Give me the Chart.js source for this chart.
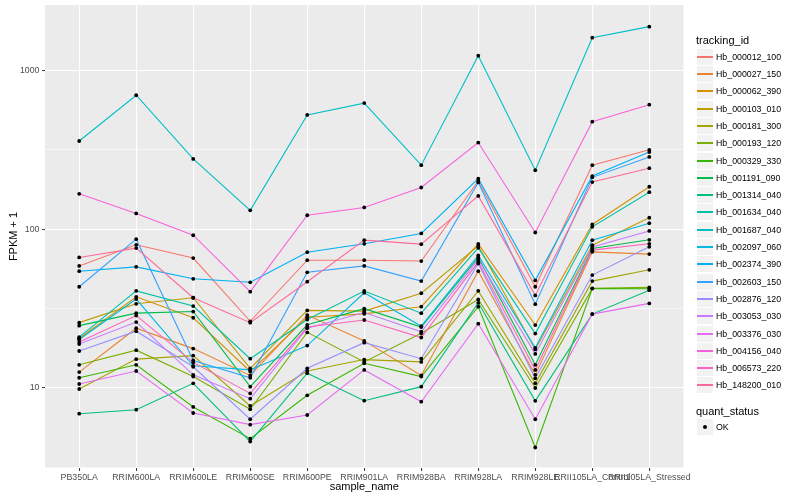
<!DOCTYPE html>
<html>
<head>
<meta charset="utf-8">
<script src="https://cdn.jsdelivr.net/npm/chart.js@4.4.1/dist/chart.umd.min.js"></script>
<style>
html,body{margin:0;padding:0;background:#ffffff;}
#wrap{position:relative;width:800px;height:500px;overflow:hidden;font-family:"Liberation Sans",Arial,Helvetica,sans-serif;}
#c{position:absolute;left:0;top:0;}
.lg{position:absolute;white-space:nowrap;color:#000;}
.key{position:absolute;background:#F2F2F2;}
.kl{position:absolute;left:0;right:0;}
</style>
</head>
<body>
<div id="wrap">
<canvas id="c" width="800" height="500"></canvas>
<div id="legend"></div>
</div>
<script>
// ---- data ----
const categories = ["PB350LA","RRIM600LA","RRIM600LE","RRIM600SE","RRIM600PE","RRIM901LA","RRIM928BA","RRIM928LA","RRIM928LE","RRII105LA_Control","RRII105LA_Stressed"];

const Hb_000012_100 = [58.7, 79.7, 65.8, 26.3, 63.8, 63.8, 63.0, 201, 43.4, 253, 316];
const Hb_000027_150 = [12.6, 23.8, 17.7, 12.0, 28.8, 19.8, 12.0, 54.4, 12.1, 72, 69.7];
const Hb_000062_390 = [20.5, 37.5, 27.7, 12.7, 27.9, 29.3, 32.5, 80.8, 24.9, 107, 185];
const Hb_000103_010 = [25.8, 33.9, 37.0, 13.3, 30.8, 30.5, 39.5, 78.5, 17.5, 79.2, 118];
const Hb_000181_300 = [9.86, 15.2, 16.0, 7.71, 12.8, 15.1, 14.6, 40.9, 10.7, 47.1, 55.5];
const Hb_000193_120 = [14.0, 17.3, 11.8, 7.35, 22.4, 14.6, 22.1, 36.1, 10.0, 42.4, 43.0];
const Hb_000329_330 = [11.6, 14.0, 7.6, 4.8, 9.0, 14.3, 11.8, 32.5, 4.22, 42.3, 42.2];
const Hb_001191_090 = [24.7, 29.6, 30.3, 10.2, 25.0, 31.6, 24.2, 66.4, 14.0, 75.7, 85.7];
const Hb_001314_040 = [6.89, 7.3, 10.7, 4.6, 12.4, 8.32, 10.2, 34.4, 8.3, 29.2, 41.3];
const Hb_001634_040 = [20.9, 40.9, 32.8, 15.3, 27.0, 40.8, 29.6, 76.3, 22.0, 103.5, 171];
const Hb_001687_040 = [359, 697, 277, 131.5, 524, 622, 253, 1236, 235, 1606, 1884];
const Hb_002097_060 = [20.2, 36.3, 13.8, 13.0, 18.5, 39.8, 24.5, 68.3, 17.9, 85.3, 109];
const Hb_002374_390 = [54.4, 57.9, 48.7, 46.3, 71.6, 80.9, 94.0, 208, 47.6, 216, 306];
const Hb_002603_150 = [43.4, 86.5, 14.9, 11.6, 53.5, 58.7, 47.1, 197, 33.7, 212, 285];
const Hb_002876_120 = [17.1, 22.8, 13.6, 6.36, 13.3, 19.3, 15.3, 60.8, 11.5, 51.4, 77.4];
const Hb_003053_030 = [18.9, 26.0, 12.1, 8.57, 23.8, 29.9, 22.6, 64.5, 16.4, 77.4, 97.5];
const Hb_003376_030 = [10.6, 12.8, 6.96, 5.88, 6.76, 13.0, 8.2, 25.4, 6.36, 29.2, 34.1];
const Hb_004156_040 = [167, 125.6, 91.6, 40.4, 122.4, 137, 183, 351, 95.3, 475, 608];
const Hb_006573_220 = [19.5, 28.6, 14.5, 9.25, 24.2, 26.8, 20.8, 62.3, 13.0, 73.8, 80.9];
const Hb_148200_010 = [66.4, 76.0, 37.0, 25.8, 46.7, 85.3, 80.5, 162, 38.3, 198, 242];

const seriesNames = ["Hb_000012_100","Hb_000027_150","Hb_000062_390","Hb_000103_010","Hb_000181_300","Hb_000193_120","Hb_000329_330","Hb_001191_090","Hb_001314_040","Hb_001634_040","Hb_001687_040","Hb_002097_060","Hb_002374_390","Hb_002603_150","Hb_002876_120","Hb_003053_030","Hb_003376_030","Hb_004156_040","Hb_006573_220","Hb_148200_010"];
const seriesValues = [Hb_000012_100,Hb_000027_150,Hb_000062_390,Hb_000103_010,Hb_000181_300,Hb_000193_120,Hb_000329_330,Hb_001191_090,Hb_001314_040,Hb_001634_040,Hb_001687_040,Hb_002097_060,Hb_002374_390,Hb_002603_150,Hb_002876_120,Hb_003053_030,Hb_003376_030,Hb_004156_040,Hb_006573_220,Hb_148200_010];

const yTickValues = [10, 100, 1000];
const yTickLabels = ["10", "100", "1000"];
const yMinorValues = [Math.pow(10,0.5), Math.pow(10,1.5), Math.pow(10,2.5)];

// ---- colours: ggplot2 hue palette (hcl, c=100, l=65) ----
function hcl2hex(h, c, l) {
  const hr = h * Math.PI / 180;
  const U = c * Math.cos(hr), V = c * Math.sin(hr);
  const Xn = 95.047, Yn = 100, Zn = 108.883;
  const den = Xn + 15 * Yn + 3 * Zn;
  const un = 4 * Xn / den, vn = 9 * Yn / den;
  const Y = l > 8 ? Yn * Math.pow((l + 16) / 116, 3) : Yn * l / 903.3;
  const u = U / (13 * l) + un, v = V / (13 * l) + vn;
  const X = 9 * Y * u / (4 * v);
  const Z = -X / 3 - 5 * Y + 3 * Y / v;
  const x = X / 100, y = Y / 100, z = Z / 100;
  const lin = [
    3.240479 * x - 1.537150 * y - 0.498535 * z,
    -0.969256 * x + 1.875992 * y + 0.041556 * z,
    0.055648 * x - 0.204043 * y + 1.057311 * z
  ];
  return '#' + lin.map(t => {
    let g = t <= 0.0031308 ? 12.92 * t : 1.055 * Math.pow(t, 1 / 2.4) - 0.055;
    g = Math.max(0, Math.min(1, g));
    return Math.round(g * 255).toString(16).padStart(2, '0');
  }).join('');
}
const nS = seriesNames.length;
const colors = seriesNames.map((_, i) => hcl2hex(15 + 360 * i / nS, 100, 65));

// ---- chart ----
const FONT = '"Liberation Sans", Arial, Helvetica, sans-serif';
const isMajor = v => yTickValues.some(t => Math.abs(t - v) < 1e-6 * t);

const datasets = seriesNames.map((name, i) => ({
  type: 'line',
  label: name,
  data: seriesValues[i].map((v, j) => ({x: j, y: v})),
  borderColor: colors[i],
  backgroundColor: colors[i],
  borderWidth: 1.1,
  pointRadius: 0,
  pointHoverRadius: 0,
  fill: false,
  tension: 0,
  order: 100 - i
}));
const allPoints = [];
seriesValues.forEach(arr => arr.forEach((v, j) => allPoints.push({x: j, y: v})));
datasets.push({
  type: 'line',
  label: 'points',
  data: allPoints,
  showLine: false,
  pointRadius: 1.9,
  pointHoverRadius: 1.9,
  pointBackgroundColor: '#000000',
  pointBorderWidth: 0,
  borderColor: '#000000',
  order: 0
});

const panelBg = {
  id: 'panelBg',
  beforeDraw(chart) {
    const {ctx, chartArea: a} = chart;
    ctx.save();
    ctx.fillStyle = '#EBEBEB';
    ctx.fillRect(a.left, a.top, a.right - a.left, a.bottom - a.top);
    ctx.restore();
  }
};

new Chart(document.getElementById('c'), {
  type: 'line',
  data: {datasets},
  plugins: [panelBg],
  options: {
    responsive: false,
    animation: false,
    devicePixelRatio: 1,
    layout: {padding: {top: 5, right: 116.5, bottom: 0, left: 0}},
    plugins: {legend: {display: false}, tooltip: {enabled: false}},
    events: [],
    scales: {
      x: {
        type: 'linear',
        min: -0.6,
        max: 10.6,
        afterBuildTicks: s => { s.ticks = categories.map((c, i) => ({value: i})); },
        afterFit: s => { s.height = 32; s.paddingLeft = 0; s.paddingRight = 0; },
        ticks: {
          callback: v => categories[v] !== undefined ? categories[v] : '',
          autoSkip: false, maxRotation: 0, minRotation: 0,
          color: '#4D4D4D', font: {family: FONT, size: 8.8}, padding: 1
        },
        grid: {color: '#FFFFFF', lineWidth: 1.1, drawTicks: true, tickLength: 3, tickColor: '#333333', tickWidth: 1},
        border: {display: false},
        title: {display: true, text: 'sample_name', color: '#000000', font: {family: FONT, size: 11}, padding: {top: 0, bottom: 6.4}}
      },
      y: {
        type: 'logarithmic',
        min: Math.pow(10, 0.4964),
        max: Math.pow(10, 3.4114),
        afterBuildTicks: s => {
          s.ticks = yMinorValues.concat(yTickValues).sort((a, b) => a - b).map(v => ({value: v}));
        },
        afterFit: s => { s.width = 45; s.paddingTop = 0; s.paddingBottom = 0; },
        ticks: {
          callback: v => { const k = yTickValues.findIndex(t => Math.abs(t - v) < 1e-6 * t); return k >= 0 ? yTickLabels[k] : ''; },
          autoSkip: false,
          color: '#4D4D4D', font: {family: FONT, size: 8.8}, padding: 2.5
        },
        grid: {
          color: '#FFFFFF',
          lineWidth: c => (c.tick && isMajor(c.tick.value)) ? 1.1 : 0.55,
          drawTicks: true, tickLength: 3,
          tickColor: c => (c.tick && isMajor(c.tick.value)) ? '#333333' : 'rgba(0,0,0,0)',
          tickWidth: 1
        },
        border: {display: false},
        title: {display: true, text: 'FPKM + 1', color: '#000000', font: {family: FONT, size: 11}, padding: {top: 7, bottom: 0}}
      }
    }
  }
});

// ---- legend (ggplot style) ----
const lg = document.getElementById('legend');
function addEl(cls, style, text) {
  const d = document.createElement('div');
  d.className = cls;
  Object.assign(d.style, style);
  if (text !== undefined) d.textContent = text;
  lg.appendChild(d);
  return d;
}
addEl('lg', {left: '696px', top: '34px', fontSize: '11px', lineHeight: '13px'}, 'tracking_id');
seriesNames.forEach((name, i) => {
  const cy = Math.round(56.7 + 17.3 * i);
  const k = addEl('key', {left: '697px', top: (cy - 8) + 'px', width: '16px', height: '16px'});
  const line = document.createElement('div');
  line.className = 'kl';
  Object.assign(line.style, {top: '7px', height: '2px', background: colors[i]});
  k.appendChild(line);
  addEl('lg', {left: '716px', top: (cy - 6) + 'px', fontSize: '8.8px', lineHeight: '12px'}, name);
});
addEl('lg', {left: '696px', top: '405px', fontSize: '11px', lineHeight: '13px'}, 'quant_status');
const ok = addEl('key', {left: '697px', top: '419px', width: '16px', height: '16px'});
const dot = document.createElement('div');
Object.assign(dot.style, {position: 'absolute', left: '6px', top: '6px', width: '4px', height: '4px', borderRadius: '50%', background: '#000'});
ok.appendChild(dot);
addEl('lg', {left: '716px', top: '421px', fontSize: '8.8px', lineHeight: '12px'}, 'OK');
</script>
</body>
</html>
